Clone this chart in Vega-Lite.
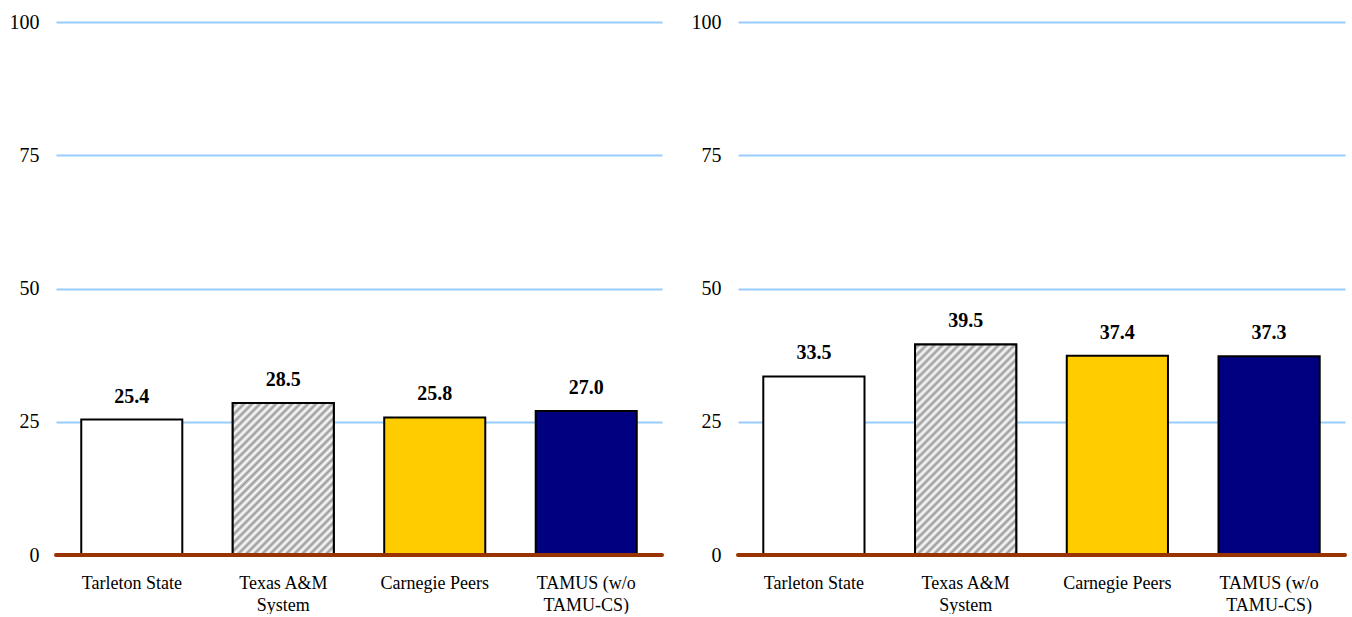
{
  "$schema": "https://vega.github.io/schema/vega-lite/v6.json",
  "padding": {"left": 9, "top": 12, "right": 5, "bottom": 0},
  "background": "white",
  "config": {"view": {"stroke": null}, "font": "Liberation Serif", "concat": {"spacing": 27}},
  "datasets": {
    "d": [
      {"panel": "A", "category": "Tarleton State", "value": 25.4},
      {"panel": "A", "category": "Texas A&M System", "value": 28.5},
      {"panel": "A", "category": "Carnegie Peers", "value": 25.8},
      {"panel": "A", "category": "TAMUS (w/o TAMU-CS)", "value": 27.0},
      {"panel": "B", "category": "Tarleton State", "value": 33.5},
      {"panel": "B", "category": "Texas A&M System", "value": 39.5},
      {"panel": "B", "category": "Carnegie Peers", "value": 37.4},
      {"panel": "B", "category": "TAMUS (w/o TAMU-CS)", "value": 37.3}
    ]
  },
  "hconcat": [
    {
      "width": 606,
      "height": 533,
      "data": {"name": "d"},
      "transform": [{"filter": "datum.panel === 'A'"}],
      "layer": [
        {
          "mark": {"type": "bar", "stroke": "#000000", "strokeWidth": 2},
          "encoding": {
            "x": {"field": "category", "type": "nominal", "sort": null,
              "scale": {"domain": ["Tarleton State", "Texas A&M System", "Carnegie Peers", "TAMUS (w/o TAMU-CS)"], "paddingInner": 0.333, "paddingOuter": 0.1667},
              "axis": {"title": null, "labelAngle": 0, "domain": false, "ticks": false, "labelPadding": 19, "labelFontSize": 18, "labelColor": "#000000", "labelLineHeight": 22,
                "labelExpr": "datum.value == 'Texas A&M System' ? ['Texas A&M', 'System'] : datum.value == 'TAMUS (w/o TAMU-CS)' ? ['TAMUS (w/o', 'TAMU-CS)'] : datum.value"}},
            "y": {"field": "value", "type": "quantitative", "scale": {"domain": [0, 100]},
              "axis": {"title": null, "values": [0, 25, 50, 75, 100], "domain": false, "ticks": false, "labelPadding": 17, "labelFontSize": 20, "labelColor": "#000000", "gridColor": "#99CCFF", "gridWidth": 2, "gridOpacity": 1}},
            "color": {"field": "category", "type": "nominal", "legend": null,
              "scale": {"domain": ["Tarleton State", "Texas A&M System", "Carnegie Peers", "TAMUS (w/o TAMU-CS)"], "range": ["#ffffff", "#ffffff", "#FFCC00", "#000080"]}}
          }
        },
        {
          "transform": [{"filter": "datum.category === 'Texas A&M System'"}],
          "mark": {"type": "bar", "stroke": "#000000", "strokeWidth": 2,
            "fill": {"gradient": "linear", "x1": 0, "y1": 0, "x2": 0.974, "y2": 1.462,
              "stops": [
                {"offset": 0, "color": "#ffffff"}, {"offset": 0.0125, "color": "#999999"}, {"offset": 0.025, "color": "#ffffff"}, {"offset": 0.0375, "color": "#999999"}, {"offset": 0.05, "color": "#ffffff"}, {"offset": 0.0625, "color": "#999999"}, {"offset": 0.075, "color": "#ffffff"}, {"offset": 0.0875, "color": "#999999"},
                {"offset": 0.1, "color": "#ffffff"}, {"offset": 0.1125, "color": "#999999"}, {"offset": 0.125, "color": "#ffffff"}, {"offset": 0.1375, "color": "#999999"}, {"offset": 0.15, "color": "#ffffff"}, {"offset": 0.1625, "color": "#999999"}, {"offset": 0.175, "color": "#ffffff"}, {"offset": 0.1875, "color": "#999999"},
                {"offset": 0.2, "color": "#ffffff"}, {"offset": 0.2125, "color": "#999999"}, {"offset": 0.225, "color": "#ffffff"}, {"offset": 0.2375, "color": "#999999"}, {"offset": 0.25, "color": "#ffffff"}, {"offset": 0.2625, "color": "#999999"}, {"offset": 0.275, "color": "#ffffff"}, {"offset": 0.2875, "color": "#999999"},
                {"offset": 0.3, "color": "#ffffff"}, {"offset": 0.3125, "color": "#999999"}, {"offset": 0.325, "color": "#ffffff"}, {"offset": 0.3375, "color": "#999999"}, {"offset": 0.35, "color": "#ffffff"}, {"offset": 0.3625, "color": "#999999"}, {"offset": 0.375, "color": "#ffffff"}, {"offset": 0.3875, "color": "#999999"},
                {"offset": 0.4, "color": "#ffffff"}, {"offset": 0.4125, "color": "#999999"}, {"offset": 0.425, "color": "#ffffff"}, {"offset": 0.4375, "color": "#999999"}, {"offset": 0.45, "color": "#ffffff"}, {"offset": 0.4625, "color": "#999999"}, {"offset": 0.475, "color": "#ffffff"}, {"offset": 0.4875, "color": "#999999"},
                {"offset": 0.5, "color": "#ffffff"}, {"offset": 0.5125, "color": "#999999"}, {"offset": 0.525, "color": "#ffffff"}, {"offset": 0.5375, "color": "#999999"}, {"offset": 0.55, "color": "#ffffff"}, {"offset": 0.5625, "color": "#999999"}, {"offset": 0.575, "color": "#ffffff"}, {"offset": 0.5875, "color": "#999999"},
                {"offset": 0.6, "color": "#ffffff"}, {"offset": 0.6125, "color": "#999999"}, {"offset": 0.625, "color": "#ffffff"}, {"offset": 0.6375, "color": "#999999"}, {"offset": 0.65, "color": "#ffffff"}, {"offset": 0.6625, "color": "#999999"}, {"offset": 0.675, "color": "#ffffff"}, {"offset": 0.6875, "color": "#999999"},
                {"offset": 0.7, "color": "#ffffff"}, {"offset": 0.7125, "color": "#999999"}, {"offset": 0.725, "color": "#ffffff"}, {"offset": 0.7375, "color": "#999999"}, {"offset": 0.75, "color": "#ffffff"}, {"offset": 0.7625, "color": "#999999"}, {"offset": 0.775, "color": "#ffffff"}, {"offset": 0.7875, "color": "#999999"},
                {"offset": 0.8, "color": "#ffffff"}, {"offset": 0.8125, "color": "#999999"}, {"offset": 0.825, "color": "#ffffff"}, {"offset": 0.8375, "color": "#999999"}, {"offset": 0.85, "color": "#ffffff"}, {"offset": 0.8625, "color": "#999999"}, {"offset": 0.875, "color": "#ffffff"}, {"offset": 0.8875, "color": "#999999"},
                {"offset": 0.9, "color": "#ffffff"}, {"offset": 0.9125, "color": "#999999"}, {"offset": 0.925, "color": "#ffffff"}, {"offset": 0.9375, "color": "#999999"}, {"offset": 0.95, "color": "#ffffff"}, {"offset": 0.9625, "color": "#999999"}, {"offset": 0.975, "color": "#ffffff"}, {"offset": 0.9875, "color": "#999999"},
                {"offset": 1, "color": "#ffffff"}
              ]}},
          "encoding": {
            "x": {"field": "category", "type": "nominal", "sort": null},
            "y": {"field": "value", "type": "quantitative"}
          }
        },
        {
          "mark": {"type": "text", "fontWeight": "bold", "fontSize": 20, "dy": -17, "baseline": "alphabetic", "color": "#000000"},
          "encoding": {
            "x": {"field": "category", "type": "nominal", "sort": null},
            "y": {"field": "value", "type": "quantitative"},
            "text": {"field": "value", "type": "quantitative", "format": ".1f"}
          }
        },
        {
          "data": {"values": [{"base": 0}]},
          "mark": {"type": "rule", "color": "#993300", "strokeWidth": 4, "strokeCap": "round"},
          "encoding": {"y": {"field": "base", "type": "quantitative"}}
        }
      ]
    },
    {
      "width": 607,
      "height": 533,
      "data": {"name": "d"},
      "transform": [{"filter": "datum.panel === 'B'"}],
      "layer": [
        {
          "mark": {"type": "bar", "stroke": "#000000", "strokeWidth": 2},
          "encoding": {
            "x": {"field": "category", "type": "nominal", "sort": null,
              "scale": {"domain": ["Tarleton State", "Texas A&M System", "Carnegie Peers", "TAMUS (w/o TAMU-CS)"], "paddingInner": 0.333, "paddingOuter": 0.1667},
              "axis": {"title": null, "labelAngle": 0, "domain": false, "ticks": false, "labelPadding": 19, "labelFontSize": 18, "labelColor": "#000000", "labelLineHeight": 22,
                "labelExpr": "datum.value == 'Texas A&M System' ? ['Texas A&M', 'System'] : datum.value == 'TAMUS (w/o TAMU-CS)' ? ['TAMUS (w/o', 'TAMU-CS)'] : datum.value"}},
            "y": {"field": "value", "type": "quantitative", "scale": {"domain": [0, 100]},
              "axis": {"title": null, "values": [0, 25, 50, 75, 100], "domain": false, "ticks": false, "labelPadding": 17, "labelFontSize": 20, "labelColor": "#000000", "gridColor": "#99CCFF", "gridWidth": 2, "gridOpacity": 1}},
            "color": {"field": "category", "type": "nominal", "legend": null,
              "scale": {"domain": ["Tarleton State", "Texas A&M System", "Carnegie Peers", "TAMUS (w/o TAMU-CS)"], "range": ["#ffffff", "#ffffff", "#FFCC00", "#000080"]}}
          }
        },
        {
          "transform": [{"filter": "datum.category === 'Texas A&M System'"}],
          "mark": {"type": "bar", "stroke": "#000000", "strokeWidth": 2,
            "fill": {"gradient": "linear", "x1": 0, "y1": 0, "x2": 0.595, "y2": 1.237,
              "stops": [
                {"offset": 0, "color": "#ffffff"}, {"offset": 0.0125, "color": "#999999"}, {"offset": 0.025, "color": "#ffffff"}, {"offset": 0.0375, "color": "#999999"}, {"offset": 0.05, "color": "#ffffff"}, {"offset": 0.0625, "color": "#999999"}, {"offset": 0.075, "color": "#ffffff"}, {"offset": 0.0875, "color": "#999999"},
                {"offset": 0.1, "color": "#ffffff"}, {"offset": 0.1125, "color": "#999999"}, {"offset": 0.125, "color": "#ffffff"}, {"offset": 0.1375, "color": "#999999"}, {"offset": 0.15, "color": "#ffffff"}, {"offset": 0.1625, "color": "#999999"}, {"offset": 0.175, "color": "#ffffff"}, {"offset": 0.1875, "color": "#999999"},
                {"offset": 0.2, "color": "#ffffff"}, {"offset": 0.2125, "color": "#999999"}, {"offset": 0.225, "color": "#ffffff"}, {"offset": 0.2375, "color": "#999999"}, {"offset": 0.25, "color": "#ffffff"}, {"offset": 0.2625, "color": "#999999"}, {"offset": 0.275, "color": "#ffffff"}, {"offset": 0.2875, "color": "#999999"},
                {"offset": 0.3, "color": "#ffffff"}, {"offset": 0.3125, "color": "#999999"}, {"offset": 0.325, "color": "#ffffff"}, {"offset": 0.3375, "color": "#999999"}, {"offset": 0.35, "color": "#ffffff"}, {"offset": 0.3625, "color": "#999999"}, {"offset": 0.375, "color": "#ffffff"}, {"offset": 0.3875, "color": "#999999"},
                {"offset": 0.4, "color": "#ffffff"}, {"offset": 0.4125, "color": "#999999"}, {"offset": 0.425, "color": "#ffffff"}, {"offset": 0.4375, "color": "#999999"}, {"offset": 0.45, "color": "#ffffff"}, {"offset": 0.4625, "color": "#999999"}, {"offset": 0.475, "color": "#ffffff"}, {"offset": 0.4875, "color": "#999999"},
                {"offset": 0.5, "color": "#ffffff"}, {"offset": 0.5125, "color": "#999999"}, {"offset": 0.525, "color": "#ffffff"}, {"offset": 0.5375, "color": "#999999"}, {"offset": 0.55, "color": "#ffffff"}, {"offset": 0.5625, "color": "#999999"}, {"offset": 0.575, "color": "#ffffff"}, {"offset": 0.5875, "color": "#999999"},
                {"offset": 0.6, "color": "#ffffff"}, {"offset": 0.6125, "color": "#999999"}, {"offset": 0.625, "color": "#ffffff"}, {"offset": 0.6375, "color": "#999999"}, {"offset": 0.65, "color": "#ffffff"}, {"offset": 0.6625, "color": "#999999"}, {"offset": 0.675, "color": "#ffffff"}, {"offset": 0.6875, "color": "#999999"},
                {"offset": 0.7, "color": "#ffffff"}, {"offset": 0.7125, "color": "#999999"}, {"offset": 0.725, "color": "#ffffff"}, {"offset": 0.7375, "color": "#999999"}, {"offset": 0.75, "color": "#ffffff"}, {"offset": 0.7625, "color": "#999999"}, {"offset": 0.775, "color": "#ffffff"}, {"offset": 0.7875, "color": "#999999"},
                {"offset": 0.8, "color": "#ffffff"}, {"offset": 0.8125, "color": "#999999"}, {"offset": 0.825, "color": "#ffffff"}, {"offset": 0.8375, "color": "#999999"}, {"offset": 0.85, "color": "#ffffff"}, {"offset": 0.8625, "color": "#999999"}, {"offset": 0.875, "color": "#ffffff"}, {"offset": 0.8875, "color": "#999999"},
                {"offset": 0.9, "color": "#ffffff"}, {"offset": 0.9125, "color": "#999999"}, {"offset": 0.925, "color": "#ffffff"}, {"offset": 0.9375, "color": "#999999"}, {"offset": 0.95, "color": "#ffffff"}, {"offset": 0.9625, "color": "#999999"}, {"offset": 0.975, "color": "#ffffff"}, {"offset": 0.9875, "color": "#999999"},
                {"offset": 1, "color": "#ffffff"}
              ]}},
          "encoding": {
            "x": {"field": "category", "type": "nominal", "sort": null},
            "y": {"field": "value", "type": "quantitative"}
          }
        },
        {
          "mark": {"type": "text", "fontWeight": "bold", "fontSize": 20, "dy": -17, "baseline": "alphabetic", "color": "#000000"},
          "encoding": {
            "x": {"field": "category", "type": "nominal", "sort": null},
            "y": {"field": "value", "type": "quantitative"},
            "text": {"field": "value", "type": "quantitative", "format": ".1f"}
          }
        },
        {
          "data": {"values": [{"base": 0}]},
          "mark": {"type": "rule", "color": "#993300", "strokeWidth": 4, "strokeCap": "round"},
          "encoding": {"y": {"field": "base", "type": "quantitative"}}
        }
      ]
    }
  ]
}
